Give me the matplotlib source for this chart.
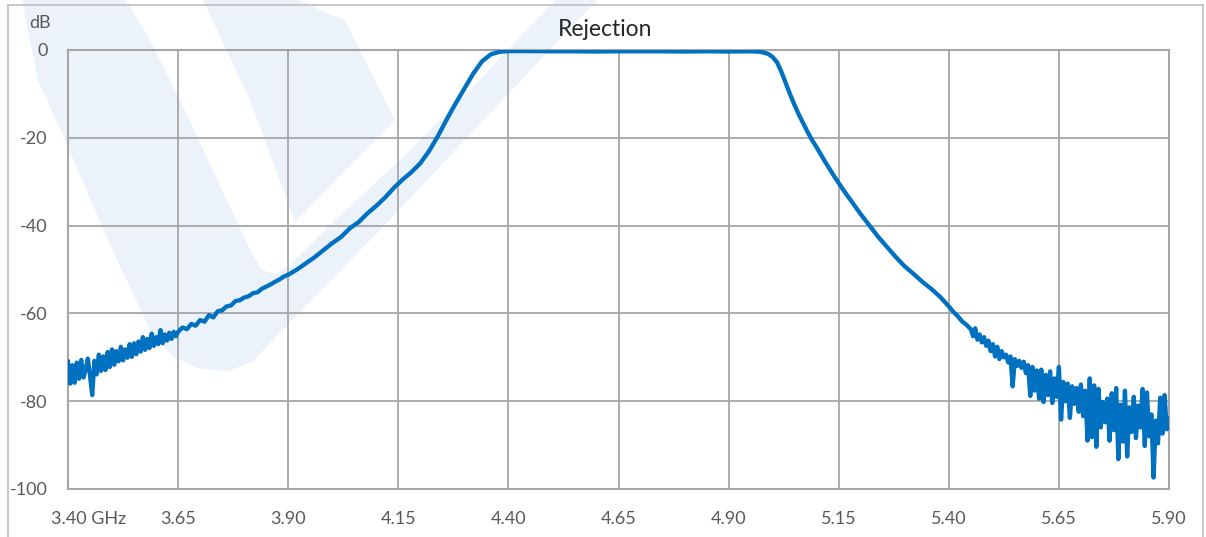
import numpy as np
import matplotlib.pyplot as plt
from matplotlib.patches import Polygon
from matplotlib.lines import Line2D
import matplotlib.transforms as mtransforms

# ---- data ----
# noisy lower skirt, 3.400 .. 3.650 GHz, 5 MHz steps
left_noise_db = [
    -71.0, -76.0, -71.8, -75.8, -71.2, -74.9, -70.6, -74.6, -72.8, -70.3,
    -74.2, -78.6, -70.8, -73.9, -69.4, -73.1, -69.8, -72.9, -68.8, -72.2,
    -68.2, -71.7, -68.6, -70.9, -67.6, -70.7, -68.2, -70.1, -67.0, -69.9,
    -66.8, -69.3, -66.4, -68.7, -65.4, -68.3, -65.8, -67.9, -64.6, -67.4,
    -65.4, -67.0, -63.8, -66.8, -64.8, -66.2, -64.4, -65.8, -64.2, -65.2,
    -64.2,
]

# smoother middle part (explicit points)
mid_freq = [
    3.66, 3.67, 3.68, 3.69, 3.70, 3.71, 3.72, 3.73, 3.74, 3.75,
    3.76, 3.77, 3.78, 3.79, 3.80, 3.81, 3.82, 3.83, 3.84, 3.85,
    3.86, 3.87, 3.88, 3.89, 3.90, 3.92, 3.94, 3.96, 3.98, 4.00,
    4.02, 4.04, 4.06, 4.08, 4.10, 4.12, 4.14, 4.16, 4.18, 4.20,
    4.22, 4.24, 4.26, 4.28, 4.30, 4.32, 4.34, 4.36, 4.38, 4.40,
    4.45, 4.50, 4.55, 4.60, 4.65, 4.70, 4.75, 4.80, 4.85, 4.90,
    4.95, 4.97, 4.98, 4.99, 5.00, 5.01, 5.02, 5.03, 5.04, 5.05,
    5.06, 5.07, 5.08, 5.09, 5.10, 5.12, 5.14, 5.16, 5.18, 5.20,
    5.22, 5.24, 5.26, 5.28, 5.30, 5.32, 5.34, 5.36, 5.38, 5.40,
    5.41, 5.42, 5.43, 5.44,
]
mid_db = [
    -63.2, -63.6, -62.4, -62.8, -61.5, -61.9, -60.4, -60.9, -59.5, -59.3,
    -58.4, -58.2, -57.2, -57.0, -56.4, -56.1, -55.4, -55.2, -54.4, -53.9,
    -53.4, -52.8, -52.3, -51.6, -51.2, -50.0, -48.6, -47.2, -45.6, -44.0,
    -42.6, -40.6, -39.2, -37.2, -35.5, -33.6, -31.4, -29.5, -27.8, -25.8,
    -23.0, -19.6, -15.8, -12.2, -8.8, -5.4, -2.6, -1.0, -0.4, -0.25,
    -0.25, -0.3, -0.3, -0.35, -0.3, -0.3, -0.3, -0.35, -0.3, -0.35,
    -0.3, -0.4, -0.6, -0.9, -1.6, -2.8, -5.0, -7.6, -10.2, -12.6,
    -14.8, -16.8, -18.8, -20.6, -22.2, -25.6, -28.8, -31.8, -34.6, -37.4,
    -40.0, -42.6, -44.9, -47.2, -49.3, -51.0, -52.8, -54.4, -56.2, -58.4,
    -59.6, -60.6, -61.8, -62.6,
]

# noisy upper skirt, 5.450 .. 5.900 GHz, 5 MHz steps
right_noise_db = [
    -63.6, -65.2, -63.4, -66.0, -64.8, -66.6, -65.4, -67.4, -66.2, -68.6,
    -67.0, -69.8, -67.6, -70.4, -68.6, -70.0, -69.4, -71.2, -69.8, -76.6,
    -70.4, -72.0, -70.8, -72.4, -71.0, -73.6, -71.8, -78.8, -72.2, -77.6,
    -73.0, -79.4, -72.8, -80.2, -74.0, -78.6, -73.2, -80.4, -74.8, -79.0,
    -72.2, -84.2, -75.6, -80.0, -76.0, -83.8, -76.6, -80.6, -77.0, -82.4,
    -76.2, -83.4, -77.6, -89.0, -74.8, -88.2, -76.4, -90.4, -77.2, -86.0,
    -80.2, -84.8, -79.4, -89.0, -78.2, -86.6, -77.0, -93.2, -80.8, -89.2,
    -77.6, -92.6, -81.4, -87.0, -79.0, -88.4, -81.0, -86.0, -77.2, -90.2,
    -78.0, -88.0, -83.0, -97.4, -84.4, -89.6, -79.2, -87.4, -78.6, -86.4,
    -84.0,
]

x_ticks = [3.40, 3.65, 3.90, 4.15, 4.40, 4.65, 4.90, 5.15, 5.40, 5.65, 5.90]
x_labels = ["3.40 GHz", "3.65", "3.90", "4.15", "4.40", "4.65", "4.90",
            "5.15", "5.40", "5.65", "5.90"]
y_ticks = [0, -20, -40, -60, -80, -100]
y_labels = ["0", "-20", "-40", "-60", "-80", "-100"]

left_freq = np.linspace(3.40, 3.65, len(left_noise_db))
right_freq = np.linspace(5.45, 5.90, len(right_noise_db))
freq = np.concatenate([left_freq, mid_freq, right_freq])
rejection = np.concatenate([left_noise_db, mid_db, right_noise_db])

W, H = 1206, 537
plt.rcParams['font.family'] = ['Lato', 'DejaVu Sans']
fig = plt.figure(figsize=(W / 100, H / 100), dpi=100)

# faint logo watermark behind everything (pixel coordinates)
bg = fig.add_axes([0, 0, 1, 1], zorder=0)
bg.set_xlim(0, W)
bg.set_ylim(H, 0)
bg.axis('off')
wm = '#ebf2f9'
band_a = [(22, 0), (38, 80), (65, 140), (108, 240), (150, 330), (172, 356),
          (198, 368), (228, 371), (252, 362), (300, 312), (380, 230),
          (460, 145), (545, 55), (597, 0), (555, 0), (470, 90), (400, 160),
          (330, 225), (290, 265), (274, 274), (262, 270), (250, 250),
          (215, 175), (180, 100), (150, 40), (126, 0)]
band_b = [(203, 0), (300, 0), (330, 15), (345, 20), (395, 120), (295, 222),
          (250, 100)]
for pts in (band_a, band_b):
    bg.add_patch(Polygon(pts, closed=True, facecolor=wm, edgecolor='none'))

# outer chart frame
frame_c = '#bfbfbf'
for xs, ys in [((8, 8), (5, H)), ((8, 1203), (5, 5)), ((1203, 1203), (5, H))]:
    bg.add_line(Line2D(xs, ys, color=frame_c, lw=1.2))

ax = fig.add_axes([68 / W, 1 - 489 / H, (1169 - 68) / W, (489 - 50) / H], zorder=1)
ax.set_facecolor('none')
ax.plot(freq, rejection, color='#0070c0', lw=3.1, solid_joinstyle='round', zorder=3)

ax.set_xlim(3.40, 5.90)
ax.set_ylim(-100, 0)
ax.set_xticks(x_ticks)
ax.set_xticklabels(x_labels)
ax.set_yticks(y_ticks)
ax.set_yticklabels(y_labels)

grid_c = '#a6a6a6'
ax.grid(True, color=grid_c, lw=1.3)
ax.set_axisbelow(True)
for sp in ax.spines.values():
    sp.set_color(grid_c)
    sp.set_linewidth(1.5)
ax.tick_params(axis='both', length=0, labelsize=13, labelcolor='#595959')
ax.tick_params(axis='x', pad=16)
ax.tick_params(axis='y', pad=14.5)

# first x label: number centred on the tick, unit hanging to the right
first = ax.get_xticklabels()[0]
first.set_horizontalalignment('left')
first.set_transform(first.get_transform() +
                    mtransforms.ScaledTranslation(-17 / 100, 0, fig.dpi_scale_trans))

fig.text(605 / W, 1 - 30 / H, "Rejection", ha='center', va='center',
         fontsize=16.5, color='#262626')
fig.text(40 / W, 1 - 23 / H, "dB", ha='center', va='center',
         fontsize=13, color='#595959')

fig.savefig('out.png', dpi=100)
